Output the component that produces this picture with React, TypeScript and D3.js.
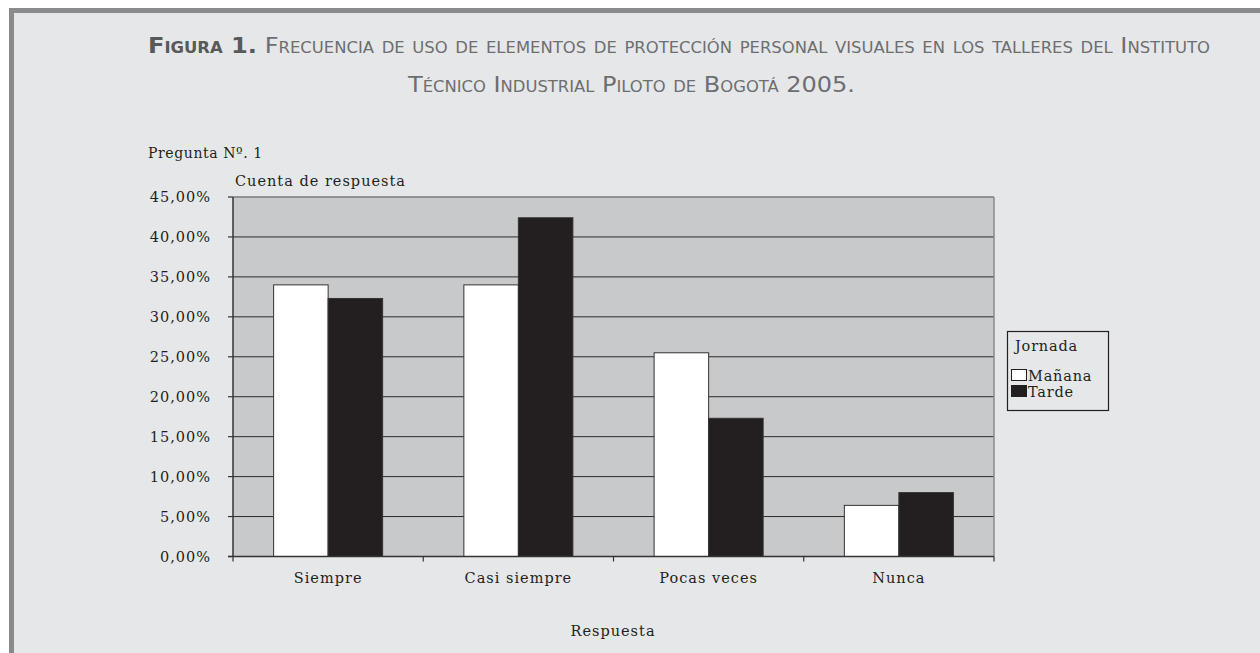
import React from "react";
import * as d3 from "d3";

const categories = ["Siempre", "Casi siempre", "Pocas veces", "Nunca"];
const seriesNames = ["Mañana", "Tarde"];
const mananaValues = [34.0, 34.0, 25.5, 6.4];
const tardeValues = [32.3, 42.4, 17.3, 8.0];
const yTickValues = [0, 5, 10, 15, 20, 25, 30, 35, 40, 45];

const titleBold = "Figura 1.";
const titleLine1 = " Frecuencia de uso de elementos de protección personal visuales en los talleres del Instituto";
const titleLine2 = "Técnico Industrial Piloto de Bogotá 2005.";

const W = 1260;
const H = 653;
const plot = { left: 233, right: 994, top: 197, bottom: 556.5 };
const serif = "'DejaVu Serif', 'Liberation Serif', serif";
const sansTitle = "'Liberation Sans Narrow', 'DejaVu Sans Condensed', 'Liberation Sans', sans-serif";
const ink = "#231f20";

export default function App() {
  const x = d3.scaleBand<string>().domain(categories).range([plot.left, plot.right]).paddingInner(0).paddingOuter(0);
  const x1 = d3.scaleBand<string>().domain(seriesNames).range([0, x.bandwidth()]).paddingInner(0).paddingOuter(0.745);
  const y = d3.scaleLinear().domain([0, 45]).range([plot.bottom, plot.top]);
  const fmt = (v: number) => v.toFixed(2).replace(".", ",") + "%";
  const data = [mananaValues, tardeValues];
  const fills = ["#ffffff", ink];
  const edges = [...categories.map((c) => x(c) as number), plot.right];

  return (
    <div style={{ position: "fixed", left: 0, top: 0, width: W, height: H }}>
      <svg width={W} height={H} style={{ display: "block" }}>
        <rect x={0} y={0} width={W} height={H} fill="#ffffff" />
        <rect x={9} y={8} width={W - 9} height={H - 8} fill="#e6e7e9" />
        <rect x={9} y={8} width={W - 9} height={5} fill="#8a8b8d" />
        <rect x={9} y={8} width={5} height={H - 8} fill="#8a8b8d" />

        {/* Title */}
        <text
          x={148}
          y={53}
          fontFamily={sansTitle}
          fontSize={22}
          fill="#6d6e70"
          style={{ fontVariant: "small-caps" }}
          textLength={1062}
          lengthAdjust="spacingAndGlyphs"
        >
          <tspan fontWeight="bold" fill="#58595b">{titleBold}</tspan>
          <tspan>{titleLine1}</tspan>
        </text>
        <text
          x={408}
          y={92}
          fontFamily={sansTitle}
          fontSize={22}
          fill="#6d6e70"
          style={{ fontVariant: "small-caps" }}
          textLength={447}
          lengthAdjust="spacingAndGlyphs"
        >
          {titleLine2}
        </text>

        <text x={148} y={158} fontFamily={serif} fontSize={14} fill={ink} letterSpacing={0.6}>
          Pregunta Nº. 1
        </text>

        {/* Plot area */}
        <rect x={plot.left} y={plot.top} width={plot.right - plot.left} height={plot.bottom - plot.top} fill="#c8c9cb" />
        {yTickValues.slice(1, -1).map((t) => (
          <line key={"g" + t} x1={plot.left} x2={plot.right} y1={y(t)} y2={y(t)} stroke="#2b2b2b" strokeWidth={1} />
        ))}
        <line x1={plot.left} x2={plot.right} y1={plot.top} y2={plot.top} stroke="#7a7a7a" strokeWidth={1.5} />
        <line x1={plot.right} x2={plot.right} y1={plot.top} y2={plot.bottom} stroke="#8a8a8a" strokeWidth={1.5} />

        {/* Bars */}
        {data.map((vals, si) =>
          categories.map((c, ci) => {
            const bx = (x(c) as number) + (x1(seriesNames[si]) as number);
            const by = y(vals[ci]);
            return (
              <rect
                key={si + "-" + ci}
                x={bx}
                y={by}
                width={x1.bandwidth()}
                height={plot.bottom - by}
                fill={fills[si]}
                stroke="#333"
                strokeWidth={1}
              />
            );
          })
        )}

        {/* Axes */}
        <line x1={plot.left} x2={plot.left} y1={plot.top} y2={plot.bottom} stroke="#333" strokeWidth={1.5} />
        <line x1={plot.left - 5} x2={plot.right} y1={plot.bottom} y2={plot.bottom} stroke="#333" strokeWidth={1.5} />
        {yTickValues.map((t) => (
          <g key={"yt" + t}>
            <line x1={plot.left - 5} x2={plot.left} y1={y(t)} y2={y(t)} stroke="#333" strokeWidth={1.2} />
            <text
              x={211}
              y={y(t)}
              dy="0.35em"
              textAnchor="end"
              fontFamily={serif}
              fontSize={14.5}
              fill={ink}
              letterSpacing={1}
            >
              {fmt(t)}
            </text>
          </g>
        ))}
        {edges.map((e, i) => (
          <line key={"xt" + i} x1={e} x2={e} y1={plot.bottom} y2={plot.bottom + 5} stroke="#333" strokeWidth={1.2} />
        ))}
        {categories.map((c) => (
          <text
            key={"xl" + c}
            x={(x(c) as number) + x.bandwidth() / 2}
            y={583}
            textAnchor="middle"
            fontFamily={serif}
            fontSize={14.5}
            fill={ink}
            letterSpacing={1}
          >
            {c}
          </text>
        ))}
        <text x={235} y={186} fontFamily={serif} fontSize={14.5} fill={ink} letterSpacing={1}>
          Cuenta de respuesta
        </text>
        <text x={613} y={636} textAnchor="middle" fontFamily={serif} fontSize={14.5} fill={ink} letterSpacing={1}>
          Respuesta
        </text>

        {/* Legend */}
        <rect x={1007.5} y={331.5} width={101} height={79} fill="none" stroke={ink} strokeWidth={1.2} />
        <text x={1015} y={351} fontFamily={serif} fontSize={14.5} fill={ink} letterSpacing={0.8}>
          Jornada
        </text>
        {seriesNames.map((s, i) => (
          <g key={"lg" + s}>
            <rect
              x={1011.5}
              y={369.5 + i * 16}
              width={15}
              height={11}
              fill={fills[i]}
              stroke={ink}
              strokeWidth={1}
            />
            <text x={1028} y={381 + i * 15.5} fontFamily={serif} fontSize={14.5} fill={ink} letterSpacing={0.8}>
              {s}
            </text>
          </g>
        ))}
      </svg>
    </div>
  );
}
